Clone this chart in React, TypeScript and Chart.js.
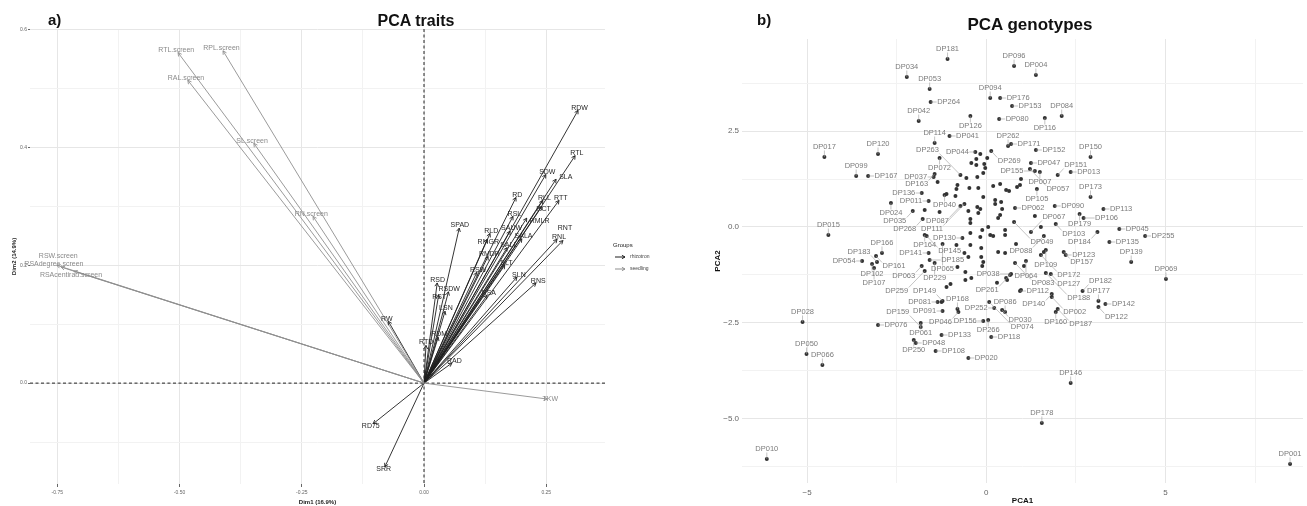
import React, { useEffect, useRef } from "react";
import { Chart, registerables } from "chart.js";

Chart.register(...registerables);

const FONT = "'Liberation Sans', Arial, Helvetica, sans-serif";

// ---------------- Panel a: PCA traits ----------------
const traitNames = [
  "RTL.screen", "RPL.screen", "RAL.screen", "SL.screen", "RN.screen",
  "RSAdegree.screen", "RSAcentirad.screen", "RSW.screen", "TKW",
  "RDW", "RTL", "SDW", "SLA", "RTT", "RLL", "RCT", "RD", "RSL", "RMLR",
  "SAUW", "RLD", "SPAD", "RMGR", "SALL", "SALA", "RNL", "RNT", "RMDR",
  "SLT", "RSW", "SLN", "RNS", "RSD", "RSDW", "RST", "RSA", "LSN", "RDM",
  "RTD", "RAD", "RW", "RD75", "SRR",
];
const traitGroups = [
  "seedling", "seedling", "seedling", "seedling", "seedling",
  "seedling", "seedling", "seedling", "seedling",
  "rhizotron", "rhizotron", "rhizotron", "rhizotron", "rhizotron", "rhizotron", "rhizotron", "rhizotron", "rhizotron", "rhizotron",
  "rhizotron", "rhizotron", "rhizotron", "rhizotron", "rhizotron", "rhizotron", "rhizotron", "rhizotron", "rhizotron",
  "rhizotron", "rhizotron", "rhizotron", "rhizotron", "rhizotron", "rhizotron", "rhizotron", "rhizotron", "rhizotron", "rhizotron",
  "rhizotron", "rhizotron", "rhizotron", "rhizotron", "rhizotron",
];
const traitDim1 = [
  -0.503, -0.411, -0.483, -0.348, -0.227,
  -0.751, -0.716, -0.742, 0.252,
  0.315, 0.309, 0.249, 0.27, 0.276, 0.243, 0.241, 0.188, 0.182, 0.21,
  0.176, 0.135, 0.072, 0.129, 0.17, 0.2, 0.272, 0.284, 0.131,
  0.165, 0.108, 0.19, 0.229, 0.027, 0.05, 0.03, 0.129, 0.043, 0.029,
  0.004, 0.057, -0.073, -0.104, -0.08,
];
const traitDim2 = [
  0.561, 0.564, 0.514, 0.407, 0.283,
  0.2, 0.19, 0.197, -0.027,
  0.463, 0.386, 0.354, 0.346, 0.31, 0.31, 0.3, 0.315, 0.283, 0.28,
  0.258, 0.254, 0.263, 0.244, 0.23, 0.245, 0.244, 0.242, 0.215,
  0.2, 0.188, 0.18, 0.17, 0.17, 0.155, 0.15, 0.149, 0.122, 0.078,
  0.064, 0.034, 0.105, -0.069, -0.142,
];
const groupNames = ["rhizotron", "seedling"];

const traitXMajor = [-0.75, -0.5, -0.25, 0, 0.25];
const traitXMinor = [-0.625, -0.375, -0.125, 0.125];
const traitXLabels = ["-0.75", "-0.50", "-0.25", "0.00", "0.25"];
const traitYMajor = [0, 0.2, 0.4, 0.6];
const traitYMinor = [-0.1, 0.1, 0.3, 0.5];
const traitYLabels = ["0.0", "0.2", "0.4", "0.6"];

// ---------------- Panel b: PCA genotypes ----------------
const genoNames = [
  "DP181", "DP096", "DP034", "DP004", "DP053", "DP094", "DP176", "DP264", "DP153", "DP126",
  "DP080", "DP084", "DP116", "DP042", "DP041", "DP114", "DP262", "DP171", "DP044", "DP072",
  "DP120", "DP017", "DP269", "DP152", "DP047", "DP150", "DP013", "DP007", "DP151", "DP155",
  "DP057", "DP263", "DP163", "DP037", "DP099", "DP167", "DP136", "DP040", "DP011", "DP024",
  "DP035", "DP087", "DP111", "DP105", "DP090", "DP173", "DP113", "DP062", "DP179", "DP106",
  "DP049", "DP103", "DP067", "DP036", "DP254", "DP045", "DP184", "DP255", "DP135", "DP088",
  "DP109", "DP267", "DP071", "DP123", "DP157", "DP172", "DP064", "DP083", "DP139", "DP069",
  "DP188", "DP127", "DP038", "DP261", "DP182", "DP112", "DP140", "DP002", "DP177", "DP122",
  "DP142", "DP160", "DP187", "DP086", "DP030", "DP252", "DP266", "DP118", "DP156", "DP168",
  "DP046", "DP074", "DP149", "DP081", "DP091", "DP061", "DP159", "DP250", "DP048", "DP133",
  "DP108", "DP020", "DP076", "DP028", "DP050", "DP066", "DP010", "DP146", "DP178", "DP001",
  "DP015", "DP166", "DP161", "DP054", "DP183", "DP102", "DP107", "DP268", "DP164", "DP145",
  "DP065", "DP130", "DP169", "DP141", "DP229", "DP185", "DP063", "DP259", "DP137", "DP189",
  "DP101", "DP110", "DP068", "DP134",
  "", "", "", "", "", "", "", "", "", "",
  "", "", "", "", "", "", "", "", "", "",
  "", "", "", "", "", "", "", "", "", "",
  "", "", "", "", "", "", "", "", "", "",
  "", "", "", "", "", "", "", "", "", "",
  "", "", "", "", "", "", "", "", "", "",
  "", "",
];
const genoPCA1 = [
  -1.08, 0.776, -2.216, 1.385, -1.579, 0.111, 0.388, -1.551, 0.72, -0.443,
  0.36, 2.105, 1.634, -1.884, -1.025, -1.44, 0.609, 0.693, -0.305, -1.302,
  -3.019, -4.515, 0.139, 1.385, 1.247, 2.909, 2.355, 1.496, 1.994, 1.357,
  1.219, -0.72, -1.44, -1.468, -3.629, -3.296, -1.8, -1.163, -1.607, -2.659,
  -2.05, -0.72, -0.609, 1.413, 1.911, 2.909, 3.269, 0.803, 2.604, 2.715,
  0.776, 1.939, 1.247, 0.111, -0.443, 3.712, 3.102, 4.432, 3.435, 1.607,
  1.662, 0.526, 0.831, 2.216, 2.161, 1.524, 1.108, 0.803, 4.044, 5.014,
  1.662, 1.801, 0.693, 0.665, 2.687, 0.942, 1.828, 1.828, 3.13, 3.13,
  3.324, 1.939, 1.994, 0.526, 0.443, 0.222, 0.055, 0.139, -0.083, -0.803,
  -0.776, 0.083, -1.219, -1.357, -1.219, -1.828, -1.828, -2.022, -1.967, -1.247,
  -1.413, -0.499, -3.019, -5.125, -5.014, -4.571, -6.122, 2.355, 1.551, 8.476,
  -4.404, -2.909, -3.075, -3.463, -3.047, -3.186, -3.13, -1.773, -1.717, -1.662,
  -1.219, -0.665, -0.443, -1.607, -1.44, -1.579, -1.801, -1.717, -0.803, -0.609,
  -1.108, -0.997, -0.416, 0.582,
  -0.416, -0.277, -0.055, -0.028, -0.083, -0.277, 0.028, -0.166, -1.357, -0.554,
  -0.249, -0.803, -0.831, -0.471, -0.222, 0.194, 0.388, 0.554, 0.637, 0.97,
  0.942, 0.859, -1.108, -0.859, -0.083, 0.249, 0.249, 0.416, 0.443, -1.717,
  -1.302, -0.249, -0.166, -0.499, -0.443, -0.222, 0.332, 0.388, 1.357, 1.524,
  -0.111, 0.055, 0.194, -0.166, 0.526, 0.526, -0.831, -0.443, -0.139, 0.332,
  -0.139, -0.083, -0.499, 1.053, 1.607, -0.582, -0.111, 0.554, -0.582, 0.97,
  -1.247, 0.3,
];
const genoPCA2 = [
  4.375, 4.19, 3.906, 3.958, 3.594, 3.359, 3.359, 3.255, 3.151, 2.891,
  2.813, 2.891, 2.839, 2.76, 2.37, 2.188, 2.109, 2.161, 1.953, 1.797,
  1.901, 1.823, 1.979, 2.005, 1.667, 1.823, 1.432, 1.432, 1.354, 1.458,
  1.51, 1.354, 1.38, 1.302, 1.328, 1.328, 0.885, 0.833, 0.677, 0.625,
  0.417, 0.547, 0.599, 0.99, 0.547, 0.781, 0.469, 0.495, 0.339, 0.234,
  0.13, 0.078, -0.13, -0.208, 0.208, -0.052, -0.13, -0.234, -0.391, -0.234,
  -0.599, -0.677, -0.443, -0.729, -0.651, -0.729, -0.885, -0.938, -0.911, -1.354,
  -1.198, -1.224, -1.224, -1.25, -1.667, -1.667, -1.745, -1.823, -1.927, -2.083,
  -2.005, -2.214, -2.135, -2.214, -2.161, -2.109, -2.42, -2.865, -2.448, -2.135,
  -2.214, -1.953, -1.927, -1.953, -2.188, -2.5, -2.604, -2.943, -3.021, -2.813,
  -3.229, -3.411, -2.552, -2.474, -3.307, -3.594, -6.042, -4.063, -5.104, -6.172,
  -0.208, -0.677, -0.755, -0.885, -0.911, -0.964, -1.068, 0.208, -0.208, -0.234,
  -0.443, -0.286, -0.156, -0.677, -0.938, -0.859, -1.016, -1.146, -1.042, -0.677,
  -1.563, -1.484, -1.328, -1.38,
  1.667, 1.615, 1.641, 1.536, 1.406, 1.771, 1.797, 1.901, 1.172, 1.276,
  1.302, 1.094, 0.99, 1.016, 1.016, 1.068, 1.12, 0.964, 0.938, 1.25,
  1.094, 1.042, 0.859, 0.807, 0.781, 0.703, 0.599, 0.651, 0.469, 0.443,
  0.391, 0.521, 0.469, 0.417, 0.104, 0.365, 0.234, 0.313, 0.286, 0.0,
  -0.078, 0.0, -0.234, -0.26, -0.078, -0.208, -0.469, -0.469, -0.547, -0.651,
  -0.781, -0.911, -0.781, -1.016, -0.651, -1.172, -1.016, -1.328, -1.38, -1.641,
  -1.953, -1.45,
];

const genoXMajor = [-5, 0, 5];
const genoXMinor = [-2.5, 2.5, 7.5];
const genoXLabels = ["\u22125", "0", "5"];
const genoYMajor = [-5, -2.5, 0, 2.5];
const genoYMinor = [-6.25, -3.75, -1.25, 1.25, 3.75];
const genoYLabels = ["\u22125.0", "\u22122.5", "0.0", "2.5"];

// ---------------- helpers ----------------
type Box = { x1: number; y1: number; x2: number; y2: number };
const hit = (a: Box, b: Box) => a.x1 < b.x2 && a.x2 > b.x1 && a.y1 < b.y2 && a.y2 > b.y1;

function repel(
  ctx: CanvasRenderingContext2D,
  items: { text: string; px: number; py: number }[],
  obstacles: Box[],
  bounds: Box,
  fontPx: number,
  maxR: number,
  allowCenter: boolean,
  forceAll: boolean
) {
  const placed: Box[] = [];
  const out: any[] = [];
  const dirs = [[0, -1], [1, 0], [0, 1], [-1, 0], [1, -1], [-1, -1], [1, 1], [-1, 1]];
  for (const it of items) {
    const w = ctx.measureText(it.text).width;
    const h = fontPx;
    let chosen: any = null;
    for (let r = 0; r < maxR && !chosen; r++) {
      const cands = allowCenter && r === 0 ? [[0, 0], ...dirs] : dirs;
      const g = 1.5 + r * 5;
      for (const [ux, uy] of cands) {
        const cx = it.px + ux * (w / 2 + g);
        const cy = it.py + uy * (h / 2 + g);
        const b = { x1: cx - w / 2 - 0.5, y1: cy - h / 2, x2: cx + w / 2 + 0.5, y2: cy + h / 2 };
        if (b.x1 < bounds.x1 || b.x2 > bounds.x2 || b.y1 < bounds.y1 || b.y2 > bounds.y2) continue;
        if (placed.some((p) => hit(p, b))) continue;
        if (obstacles.some((o) => hit(o, b))) continue;
        chosen = { b, cx, cy, r };
        break;
      }
    }
    if (!chosen && forceAll) {
      const b = { x1: it.px - w / 2, y1: it.py - h / 2, x2: it.px + w / 2, y2: it.py + h / 2 };
      chosen = { b, cx: it.px, cy: it.py, r: 0 };
    }
    if (chosen) {
      placed.push(chosen.b);
      out.push({ ...it, ...chosen });
    }
  }
  return out;
}

const near = (arr: number[], v: number) => arr.findIndex((m) => Math.abs(m - v) < 1e-9);

function tickSetup(major: number[], minor: number[], labels: string[]) {
  return {
    afterBuildTicks: (s: any) => {
      s.ticks = [...major, ...minor].sort((a, b) => a - b).map((v) => ({ value: v }));
    },
    callback: (v: any) => {
      const k = near(major, Number(v));
      return k >= 0 ? labels[k] : "";
    },
    isMajor: (v: number) => near(major, v) >= 0,
  };
}

const COL_RHIZO = "#1e1e1e";
const COL_SEED = "#8f8f8f";

function arrowHead(ctx: CanvasRenderingContext2D, x0: number, y0: number, x1: number, y1: number, len: number) {
  const a = Math.atan2(y1 - y0, x1 - x0);
  ctx.beginPath();
  ctx.moveTo(x1 - len * Math.cos(a - 0.5), y1 - len * Math.sin(a - 0.5));
  ctx.lineTo(x1, y1);
  ctx.lineTo(x1 - len * Math.cos(a + 0.5), y1 - len * Math.sin(a + 0.5));
  ctx.stroke();
}

export default function App() {
  const leftRef = useRef<HTMLCanvasElement>(null);
  const rightRef = useRef<HTMLCanvasElement>(null);

  useEffect(() => {
    const tx = tickSetup(traitXMajor, traitXMinor, traitXLabels);
    const ty = tickSetup(traitYMajor, traitYMinor, traitYLabels);
    const gx = tickSetup(genoXMajor, genoXMinor, genoXLabels);
    const gy = tickSetup(genoYMajor, genoYMinor, genoYLabels);

    const order = traitNames.map((_, i) => i).sort((a, b) => (traitGroups[a] === "seedling" ? 0 : 1) - (traitGroups[b] === "seedling" ? 0 : 1));

    const traitPlugin = {
      id: "traitDecor",
      beforeDatasetsDraw(chart: any) {
        const { ctx, chartArea: ca, scales } = chart;
        const x0 = scales.x.getPixelForValue(0);
        const y0 = scales.y.getPixelForValue(0);
        ctx.save();
        ctx.strokeStyle = "#222";
        ctx.lineWidth = 1;
        ctx.setLineDash([3, 2.5]);
        ctx.beginPath();
        ctx.moveTo(x0, ca.top);
        ctx.lineTo(x0, ca.bottom);
        ctx.moveTo(ca.left, y0);
        ctx.lineTo(ca.right, y0);
        ctx.stroke();
        ctx.restore();
      },
      afterDatasetsDraw(chart: any) {
        const { ctx, scales } = chart;
        const ox = scales.x.getPixelForValue(0);
        const oy = scales.y.getPixelForValue(0);
        ctx.save();
        ctx.lineWidth = 0.9;
        const items: any[] = [];
        for (const i of order) {
          const px = scales.x.getPixelForValue(traitDim1[i]);
          const py = scales.y.getPixelForValue(traitDim2[i]);
          ctx.strokeStyle = traitGroups[i] === "seedling" ? COL_SEED : COL_RHIZO;
          arrowHead(ctx, ox, oy, px, py, 4);
          const d = Math.hypot(px - ox, py - oy) || 1;
          items.push({ text: traitNames[i], px: px + ((px - ox) / d) * 3, py: py + ((py - oy) / d) * 3, i });
        }
        ctx.font = `7px ${FONT}`;
        const bounds = { x1: 0, y1: 0, x2: chart.width, y2: chart.height };
        const placed = repel(ctx, items, [], bounds, 7, 3, true, true);
        ctx.textAlign = "center";
        ctx.textBaseline = "middle";
        for (const l of placed) {
          ctx.fillStyle = traitGroups[l.i] === "seedling" ? "#8a8a8a" : "#262626";
          ctx.fillText(l.text, l.cx, l.cy);
        }
        ctx.restore();
      },
      afterDraw(chart: any) {
        const { ctx, chartArea: ca } = chart;
        const lx = ca.right + 9;
        ctx.save();
        ctx.fillStyle = "#222";
        ctx.font = `6px ${FONT}`;
        ctx.textAlign = "left";
        ctx.textBaseline = "middle";
        ctx.fillText("Groups", lx - 1, 245);
        groupNames.forEach((g, k) => {
          const yy = 257 + k * 12;
          const col = g === "seedling" ? COL_SEED : COL_RHIZO;
          ctx.strokeStyle = col;
          ctx.lineWidth = 1;
          ctx.beginPath();
          ctx.moveTo(lx + 1, yy);
          ctx.lineTo(lx + 11, yy);
          ctx.stroke();
          arrowHead(ctx, lx + 1, yy, lx + 11, yy, 3.5);
          ctx.fillStyle = "#444";
          ctx.font = `5px ${FONT}`;
          ctx.fillText(g, lx + 16, yy);
        });
        ctx.restore();
      },
    };

    const traitDatasets = order.map((i) => ({
      data: [{ x: 0, y: 0 }, { x: traitDim1[i], y: traitDim2[i] }],
      showLine: true,
      borderColor: traitGroups[i] === "seedling" ? COL_SEED : COL_RHIZO,
      borderWidth: 0.9,
      pointRadius: 0,
    }));

    const gridCol = (isMajor: (v: number) => boolean) => (c: any) =>
      c.tick && isMajor(c.tick.value) ? "#e6e6e6" : "#f2f2f2";

    const left = new Chart(leftRef.current!, {
      type: "scatter",
      data: { datasets: traitDatasets as any },
      plugins: [traitPlugin],
      options: {
        responsive: false,
        animation: false,
        events: [],
        layout: { padding: { left: 0, top: 29, right: 95, bottom: 0 } },
        plugins: { legend: { display: false }, tooltip: { enabled: false } },
        scales: {
          x: {
            type: "linear",
            min: -0.8057,
            max: 0.3701,
            afterBuildTicks: tx.afterBuildTicks,
            afterFit: (s: any) => { s.height = 22; },
            border: { display: false },
            grid: {
              color: gridCol(tx.isMajor),
              lineWidth: 1,
              tickLength: 3,
              tickColor: (c: any) => (c.tick && tx.isMajor(c.tick.value) ? "#666" : "rgba(0,0,0,0)"),
            },
            ticks: { callback: tx.callback, autoSkip: false, maxRotation: 0, padding: 3, color: "#666", font: { size: 5, family: FONT } },
            title: { display: true, text: "Dim1 (16.9%)", color: "#222", font: { size: 6, family: FONT, weight: "bold" }, padding: { top: 0, bottom: 0.5 } },
          } as any,
          y: {
            type: "linear",
            min: -0.1712,
            max: 0.601,
            afterBuildTicks: ty.afterBuildTicks,
            afterFit: (s: any) => { s.width = 30; },
            border: { display: false },
            grid: {
              color: gridCol(ty.isMajor),
              lineWidth: 1,
              tickLength: 2,
              tickColor: (c: any) => (c.tick && ty.isMajor(c.tick.value) ? "#666" : "rgba(0,0,0,0)"),
            },
            ticks: { callback: ty.callback, autoSkip: false, padding: 1, color: "#666", font: { size: 5, family: FONT } },
            title: { display: true, text: "Dim2 (14.9%)", color: "#222", font: { size: 6, family: FONT, weight: "bold" }, padding: { top: 11, bottom: 0 } },
          } as any,
        },
      },
    });

    const genoPlugin = {
      id: "genoLabels",
      afterDatasetsDraw(chart: any) {
        const { ctx, scales, chartArea: ca } = chart;
        ctx.save();
        ctx.font = `7.5px ${FONT}`;
        const pts = genoNames.map((n, i) => ({
          text: n,
          px: scales.x.getPixelForValue(genoPCA1[i]),
          py: scales.y.getPixelForValue(genoPCA2[i]),
        }));
        const obstacles = pts.map((p) => ({ x1: p.px - 2.3, y1: p.py - 2.3, x2: p.px + 2.3, y2: p.py + 2.3 }));
        const bounds = { x1: ca.left, y1: ca.top, x2: ca.right + 40, y2: ca.bottom };
        const placed = repel(ctx, pts.filter((p) => p.text), obstacles, bounds, 7, 5, false, false);
        ctx.strokeStyle = "#9c9c9c";
        ctx.lineWidth = 0.6;
        for (const l of placed) {
          if (l.r > 0) {
            const qx = Math.max(l.b.x1, Math.min(l.px, l.b.x2));
            const qy = Math.max(l.b.y1, Math.min(l.py, l.b.y2));
            if (Math.hypot(qx - l.px, qy - l.py) > 4) {
              ctx.beginPath();
              ctx.moveTo(l.px, l.py);
              ctx.lineTo(qx, qy);
              ctx.stroke();
            }
          }
        }
        ctx.fillStyle = "#7b7b7b";
        ctx.textAlign = "center";
        ctx.textBaseline = "middle";
        for (const l of placed) ctx.fillText(l.text, l.cx, l.cy);
        ctx.restore();
      },
    };

    const right = new Chart(rightRef.current!, {
      type: "scatter",
      data: {
        datasets: [
          {
            data: genoPCA1.map((x, i) => ({ x, y: genoPCA2[i] })),
            pointRadius: 2,
            pointBackgroundColor: "#333",
            pointBorderWidth: 0,
            borderWidth: 0,
          } as any,
        ],
      },
      plugins: [genoPlugin],
      options: {
        responsive: false,
        animation: false,
        events: [],
        layout: { padding: { left: 0, top: 39, right: 0, bottom: 0 } },
        plugins: { legend: { display: false }, tooltip: { enabled: false } },
        scales: {
          x: {
            type: "linear",
            min: -6.814,
            max: 8.837,
            afterBuildTicks: gx.afterBuildTicks,
            afterFit: (s: any) => { s.height = 23; },
            border: { display: false },
            grid: { color: gridCol(gx.isMajor), lineWidth: 1, drawTicks: false },
            ticks: { callback: gx.callback, autoSkip: false, maxRotation: 0, padding: 5, color: "#666", font: { size: 8, family: FONT } },
            title: { display: true, text: "PCA1", color: "#111", font: { size: 8, family: FONT, weight: "bold" }, padding: { top: 0, bottom: 0 } },
          } as any,
          y: {
            type: "linear",
            min: -6.667,
            max: 4.896,
            afterBuildTicks: gy.afterBuildTicks,
            afterFit: (s: any) => { s.width = 42; },
            border: { display: false },
            grid: { color: gridCol(gy.isMajor), lineWidth: 1, drawTicks: false },
            ticks: { callback: gy.callback, autoSkip: false, padding: 3, color: "#666", font: { size: 8, family: FONT } },
            title: { display: true, text: "PCA2", color: "#111", font: { size: 8, family: FONT, weight: "bold" }, padding: { top: 13, bottom: 0 } },
          } as any,
        },
      },
    });

    return () => {
      left.destroy();
      right.destroy();
    };
  }, []);

  const titleStyle: React.CSSProperties = { position: "absolute", fontWeight: "bold", color: "#111", whiteSpace: "nowrap" };

  return (
    <div style={{ position: "fixed", left: 0, top: 0, width: 1307, height: 506, background: "#fff", overflow: "hidden", fontFamily: FONT }}>
      <canvas ref={leftRef} width={700} height={506} style={{ position: "absolute", left: 0, top: 0, width: 700, height: 506 }} />
      <canvas ref={rightRef} width={607} height={506} style={{ position: "absolute", left: 700, top: 0, width: 607, height: 506 }} />
      <div style={{ ...titleStyle, left: 48, top: 11, fontSize: 15, lineHeight: "18px" }}>a)</div>
      <div style={{ ...titleStyle, left: 316, width: 200, textAlign: "center", top: 11, fontSize: 16, lineHeight: "20px" }}>PCA traits</div>
      <div style={{ ...titleStyle, left: 757, top: 11, fontSize: 15, lineHeight: "18px" }}>b)</div>
      <div style={{ ...titleStyle, left: 930, width: 200, textAlign: "center", top: 15, fontSize: 17, lineHeight: "20px" }}>PCA genotypes</div>
    </div>
  );
}
